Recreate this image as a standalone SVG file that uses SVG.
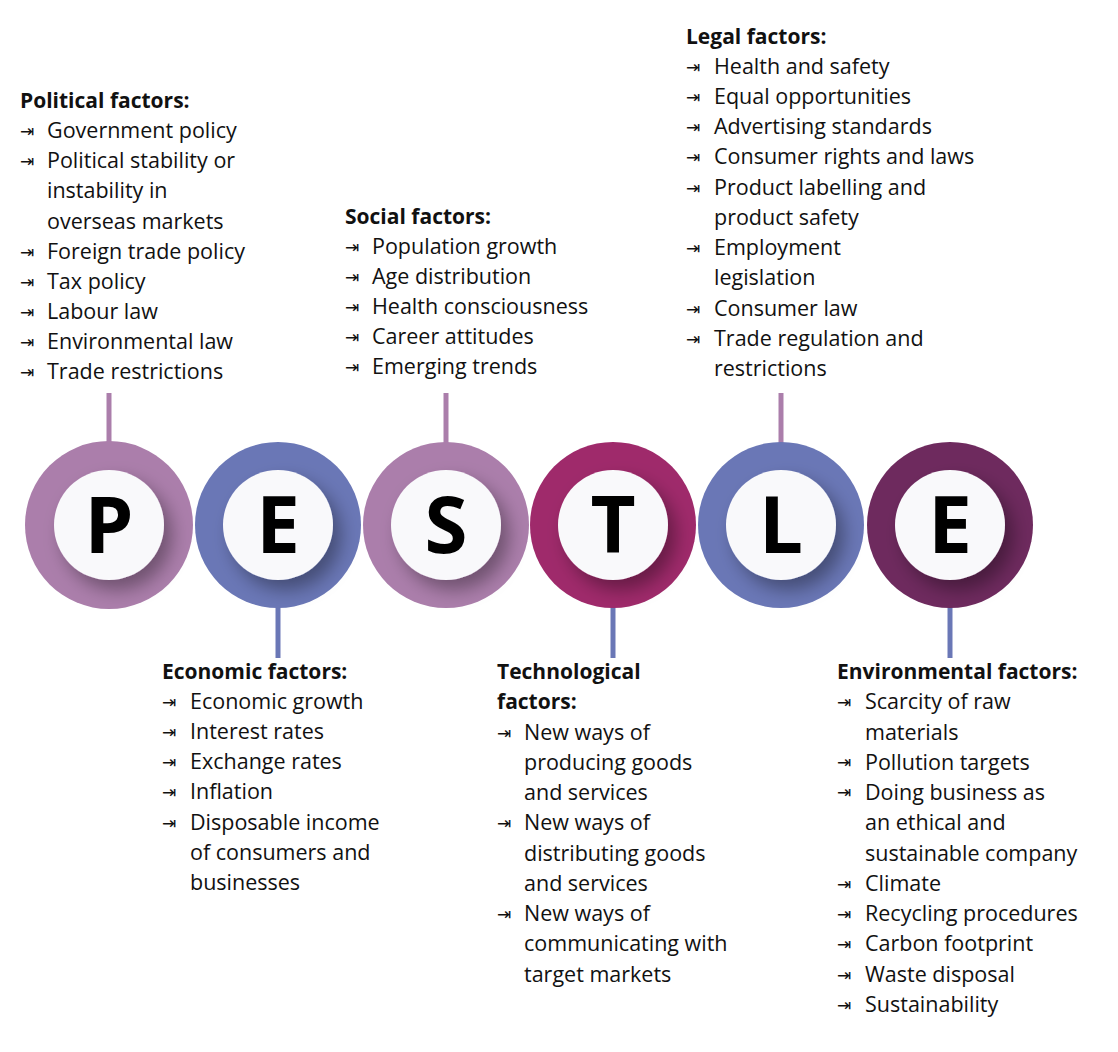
<svg xmlns="http://www.w3.org/2000/svg" width="1118" height="1052" viewBox="0 0 1118 1052">
<style>
text{font-family:"Open Sans","Noto Sans",sans-serif;fill:#111;}
.h{font-weight:bold;font-size:21px;}
.t{font-size:21.5px;}
.b{font-size:17px;}
.L{font-size:78px;font-weight:bold;text-anchor:middle;fill:#000;}
.inner{fill:#f9f9fb;filter:url(#sh);}
</style>
<defs>
<filter id="sh" x="-50%" y="-50%" width="200%" height="200%"><feDropShadow dx="8" dy="10" stdDeviation="9" flood-color="#000" flood-opacity="0.35"/></filter>
</defs>
<g id="connectors" stroke-width="5">
<line x1="109" y1="393" x2="109" y2="443" stroke="#ab7eab"/>
<line x1="278" y1="607" x2="278" y2="658" stroke="#6a77b6"/>
<line x1="446" y1="393" x2="446" y2="443" stroke="#ab7eab"/>
<line x1="613" y1="607" x2="613" y2="658" stroke="#6a77b6"/>
<line x1="781" y1="393" x2="781" y2="443" stroke="#ab7eab"/>
<line x1="950" y1="607" x2="950" y2="658" stroke="#6a77b6"/>
</g>
<g id="P"><circle cx="109" cy="525" r="84" fill="#ab7eab"/><circle class="inner" cx="109" cy="525" r="55"/><text class="L" x="109" y="553">P</text></g>
<g id="E1"><circle cx="278" cy="525" r="83" fill="#6a77b6"/><circle class="inner" cx="278" cy="525" r="55"/><text class="L" x="278" y="553">E</text></g>
<g id="S"><circle cx="446" cy="525" r="83" fill="#ab7eab"/><circle class="inner" cx="446" cy="525" r="55"/><text class="L" x="446" y="553">S</text></g>
<g id="T"><circle cx="613" cy="525" r="83" fill="#9f2a6b"/><circle class="inner" cx="613" cy="525" r="55"/><text class="L" x="613" y="553">T</text></g>
<g id="Lc"><circle cx="781" cy="525" r="83" fill="#6a77b6"/><circle class="inner" cx="781" cy="525" r="55"/><text class="L" x="781" y="553">L</text></g>
<g id="E2"><circle cx="950" cy="525" r="83" fill="#6e2a5e"/><circle class="inner" cx="950" cy="525" r="55"/><text class="L" x="950" y="553">E</text></g>

<g id="political">
<text class="h" x="20" y="108">Political factors:</text>
<g class="b"><text x="20" y="137">⇥</text><text x="20" y="167">⇥</text><text x="20" y="258">⇥</text><text x="20" y="288">⇥</text><text x="20" y="318">⇥</text><text x="20" y="348">⇥</text><text x="20" y="378">⇥</text></g>
<g class="t"><text x="47" y="138">Government policy</text><text x="47" y="168">Political stability or</text><text x="47" y="198">instability in</text><text x="47" y="229">overseas markets</text><text x="47" y="259">Foreign trade policy</text><text x="47" y="289">Tax policy</text><text x="47" y="319">Labour law</text><text x="47" y="349">Environmental law</text><text x="47" y="379">Trade restrictions</text></g>
</g>
<g id="social">
<text class="h" x="345" y="224">Social factors:</text>
<g class="b"><text x="345" y="253">⇥</text><text x="345" y="283">⇥</text><text x="345" y="313">⇥</text><text x="345" y="343">⇥</text><text x="345" y="373">⇥</text></g>
<g class="t"><text x="372" y="254">Population growth</text><text x="372" y="284">Age distribution</text><text x="372" y="314">Health consciousness</text><text x="372" y="344">Career attitudes</text><text x="372" y="374">Emerging trends</text></g>
</g>
<g id="legal">
<text class="h" x="686" y="44">Legal factors:</text>
<g class="b"><text x="686" y="73">⇥</text><text x="686" y="103">⇥</text><text x="686" y="133">⇥</text><text x="686" y="163">⇥</text><text x="686" y="194">⇥</text><text x="686" y="254">⇥</text><text x="686" y="315">⇥</text><text x="686" y="345">⇥</text></g>
<g class="t"><text x="714" y="74">Health and safety</text><text x="714" y="104">Equal opportunities</text><text x="714" y="134">Advertising standards</text><text x="714" y="164">Consumer rights and laws</text><text x="714" y="195">Product labelling and</text><text x="714" y="225">product safety</text><text x="714" y="255">Employment</text><text x="714" y="285">legislation</text><text x="714" y="316">Consumer law</text><text x="714" y="346">Trade regulation and</text><text x="714" y="376">restrictions</text></g>
</g>
<g id="economic">
<text class="h" x="162" y="679">Economic factors:</text>
<g class="b"><text x="162" y="708">⇥</text><text x="162" y="738">⇥</text><text x="162" y="768">⇥</text><text x="162" y="798">⇥</text><text x="162" y="829">⇥</text></g>
<g class="t"><text x="190" y="709">Economic growth</text><text x="190" y="739">Interest rates</text><text x="190" y="769">Exchange rates</text><text x="190" y="799">Inflation</text><text x="190" y="830">Disposable income</text><text x="190" y="860">of consumers and</text><text x="190" y="890">businesses</text></g>
</g>
<g id="technological">
<text class="h" x="497" y="679">Technological</text><text class="h" x="497" y="709">factors:</text>
<g class="b"><text x="497" y="739">⇥</text><text x="497" y="829">⇥</text><text x="497" y="920">⇥</text></g>
<g class="t"><text x="524" y="740">New ways of</text><text x="524" y="770">producing goods</text><text x="524" y="800">and services</text><text x="524" y="830">New ways of</text><text x="524" y="861">distributing goods</text><text x="524" y="891">and services</text><text x="524" y="921">New ways of</text><text x="524" y="951">communicating with</text><text x="524" y="982">target markets</text></g>
</g>
<g id="environmental">
<text class="h" x="837" y="679">Environmental factors:</text>
<g class="b"><text x="837" y="708">⇥</text><text x="837" y="768">⇥</text><text x="837" y="798">⇥</text><text x="837" y="890">⇥</text><text x="837" y="920">⇥</text><text x="837" y="950">⇥</text><text x="837" y="981">⇥</text><text x="837" y="1011">⇥</text></g>
<g class="t"><text x="865" y="709">Scarcity of raw</text><text x="865" y="740">materials</text><text x="865" y="770">Pollution targets</text><text x="865" y="800">Doing business as</text><text x="865" y="830">an ethical and</text><text x="865" y="861">sustainable company</text><text x="865" y="891">Climate</text><text x="865" y="921">Recycling procedures</text><text x="865" y="951">Carbon footprint</text><text x="865" y="982">Waste disposal</text><text x="865" y="1012">Sustainability</text></g>
</g>
</svg>
